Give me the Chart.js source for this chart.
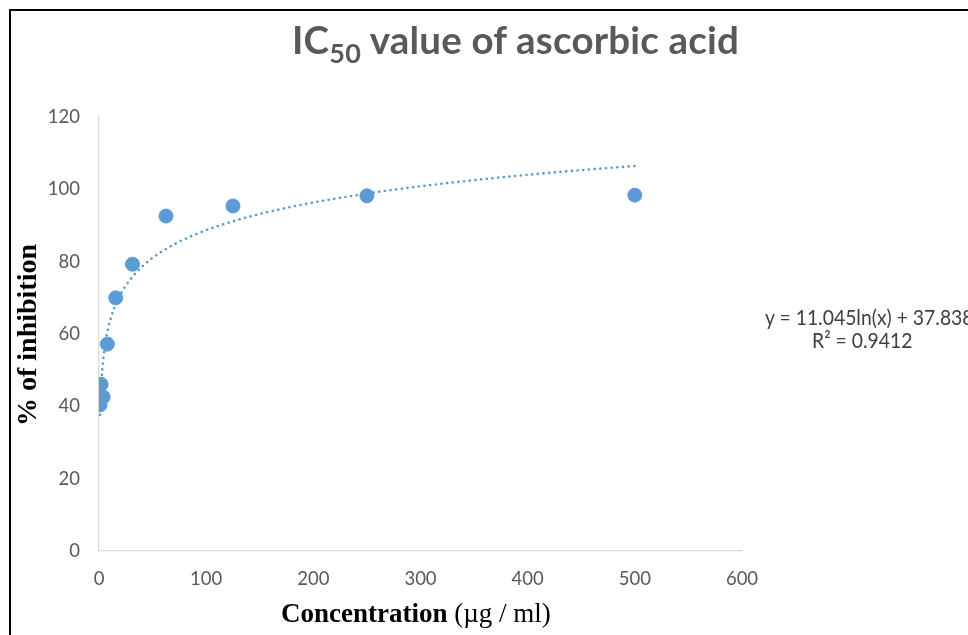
<!DOCTYPE html>
<html>
<head>
<meta charset="utf-8">
<script src="https://cdn.jsdelivr.net/npm/chart.js@4"></script>
<style>
  html, body { margin: 0; padding: 0; background: #fff; }
  #wrap { position: relative; width: 968px; height: 635px; overflow: hidden; background: #fff; }
  #frame { position: absolute; left: 9px; top: 9px; width: 1200px; height: 900px; border-left: 2px solid #000; border-top: 2px solid #000; }
  canvas { position: absolute; left: 0; top: 0; }
  .t { position: absolute; white-space: nowrap; }
  #title { left: 292px; top: 16px; font: bold 38.5px Lato, sans-serif; line-height: 46px; color: #595959; letter-spacing: 0.2px; }
  #title sub { font-size: 27px; vertical-align: -9px; line-height: 0; }
  #ytitle { left: 27px; top: 335px; transform: translate(-50%, -50%) rotate(-90deg); font: bold 28px "Liberation Serif", serif; color: #000; }
  #xtitle { left: 281px; top: 600px; font: 27px "Liberation Serif", serif; line-height: 27px; color: #000; }
  #xtitle b { font-weight: bold; }
  #eq, #eq2 { font: 22px Lato, sans-serif; line-height: 23px; color: #404040; transform: scaleX(0.88); transform-origin: left top; }
  #eq { left: 765px; top: 305px; }
  #eq2 { left: 812px; top: 328px; }
</style>
</head>
<body>
<div id="wrap">
  <canvas id="c" width="968" height="635"></canvas>
  <div id="frame"></div>
  <div class="t" id="title">IC<sub>50</sub> value of ascorbic acid</div>
  <div class="t" id="ytitle">% of inhibition</div>
  <div class="t" id="xtitle"><b>Concentration</b> (µg / ml)</div>
  <div class="t" id="eq">y = 11.045ln(x) + 37.838</div>
  <div class="t" id="eq2">R² = 0.9412</div>
</div>
<script>
// Concentrations (µg/ml)
const concentration = [0.98, 1.95, 3.9, 7.8, 15.6, 31.25, 62.5, 125, 250, 500];
// % of inhibition
const inhibition = [40.4, 46.1, 42.6, 57.2, 70.0, 79.3, 92.6, 95.4, 98.2, 98.4];
// Logarithmic trendline y = 11.045 ln(x) + 37.838, sampled values
const trendX = [0.98, 1.5, 2, 3, 4, 6, 8, 12, 16, 25, 40, 60, 90, 130, 180, 250, 330, 420, 500];
const trendY = [37.61, 42.32, 45.49, 49.97, 53.15, 57.63, 60.81, 65.28, 68.46, 73.39, 78.58, 83.06, 87.54, 91.60, 95.19, 98.82, 101.89, 104.55, 106.48];
// Axis ticks
const xTicks = [0, 100, 200, 300, 400, 500, 600];
const yTicks = [0, 20, 40, 60, 80, 100, 120];

const blue = '#5B9BD5';
const tickFont = { family: 'Lato', size: 18.5 };

new Chart(document.getElementById('c'), {
  type: 'scatter',
  data: {
    datasets: [
      {
        label: 'data',
        data: concentration.map((x, i) => ({ x: x, y: inhibition[i] })),
        backgroundColor: blue,
        borderColor: blue,
        pointRadius: 7,
        pointHoverRadius: 7,
        showLine: false,
        order: 2
      },
      {
        label: 'trend',
        type: 'line',
        data: trendX.map((x, i) => ({ x: x, y: trendY[i] })),
        borderColor: blue,
        borderWidth: 2.6,
        borderDash: [0.1, 5.6],
        borderCapStyle: 'round',
        pointRadius: 0,
        fill: false,
        cubicInterpolationMode: 'monotone',
        order: 1
      }
    ]
  },
  options: {
    responsive: false,
    animation: false,
    layout: { padding: { left: 0, top: 117, right: 226, bottom: 0 } },
    plugins: { legend: { display: false }, tooltip: { enabled: false }, title: { display: false } },
    scales: {
      x: {
        type: 'linear',
        min: xTicks[0],
        max: xTicks[xTicks.length - 1],
        afterBuildTicks: s => { s.ticks = xTicks.map(v => ({ value: v })); },
        afterFit: s => { s.height = 84; },
        grid: { display: false, drawTicks: false },
        border: { display: true, color: '#d9d9d9', width: 1.3 },
        ticks: { font: tickFont, color: '#595959', padding: 17, maxRotation: 0 }
      },
      y: {
        type: 'linear',
        min: yTicks[0],
        max: yTicks[yTicks.length - 1],
        afterBuildTicks: s => { s.ticks = yTicks.map(v => ({ value: v })); },
        afterFit: s => { s.width = 99; },
        grid: { display: false, drawTicks: false },
        border: { display: true, color: '#d9d9d9', width: 1.3 },
        ticks: { font: tickFont, color: '#595959', padding: 19 }
      }
    }
  }
});
</script>
</body>
</html>
